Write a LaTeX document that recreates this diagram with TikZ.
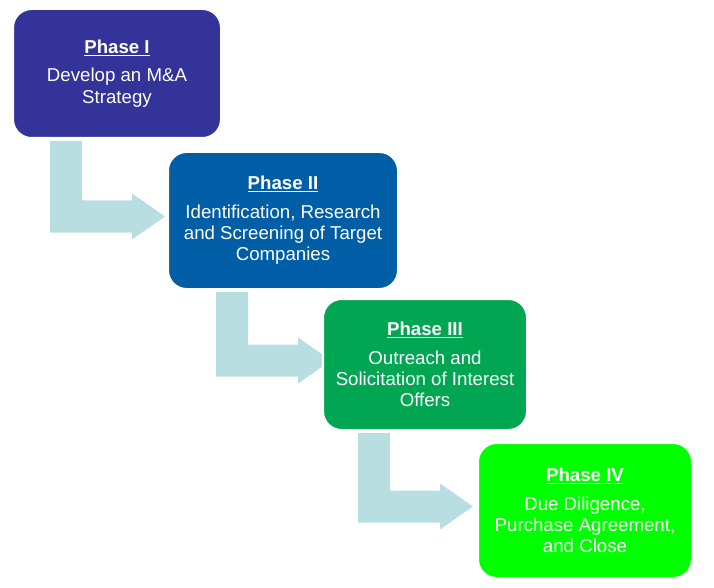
\documentclass[tikz,border=0pt]{standalone}
\usepackage{fontspec}
\setmainfont{Liberation Sans}
\usetikzlibrary{calc,backgrounds}
\definecolor{phaseone}{RGB}{51,51,153}
\definecolor{phasetwo}{RGB}{0,94,166}
\definecolor{phasethree}{RGB}{0,166,81}
\definecolor{phasefour}{RGB}{0,255,0}
\definecolor{flowblue}{RGB}{184,222,225}
\newcommand{\phasehead}[1]{\textbf{\underline{#1}}\\[5.5pt]}
\tikzset{phasebox/.style={rounded corners=14pt,draw=white,line width=1.5pt,align=center,text=white,font=\fontsize{14}{16}\selectfont}}
\tikzset{flowarrow/.style={fill=flowblue}}
% bent arrow from the bottom of #1 to the left side of #2
\newcommand{\phasearrow}[2]{%
	\coordinate (top) at ($(#1.south)+(-51,2)$);
	\coordinate (tipy) at ($(#2.west)+(0,-4)$);
	\coordinate (bend) at (top |- tipy);
	\fill[flowarrow] ($(top)+(-16,0)$) -- ++(32,0) -- ($(bend)+(16,-16)$) -- ++(50,0) -- ++(0,-7) -- ++(33,23) -- ++(-33,23) -- ++(0,-7) -- ++(-82,0) -- cycle;
}

\begin{document}
\begin{tikzpicture}[x=0.75pt,y=-0.75pt]
	\useasboundingbox (0,0) rectangle (714,588);

	\node[phasebox,fill=phaseone,minimum width=156pt,minimum height=96.75pt] (p1) at (117,73.5) {\phasehead{Phase I}Develop an M\&A\\Strategy};
	\node[phasebox,fill=phasetwo,minimum width=172.5pt,minimum height=102.75pt] (p2) at (283,220.5) {\phasehead{Phase II}Identification, Research\\and Screening of Target\\Companies};
	\node[phasebox,fill=phasethree,minimum width=153pt,minimum height=98.25pt] (p3) at (425,364.5) {\phasehead{Phase III}Outreach and\\Solicitation of Interest\\Offers};
	\node[phasebox,fill=phasefour,minimum width=160.5pt,minimum height=101.25pt] (p4) at (585,510.5) {\phasehead{Phase IV}Due Diligence,\\Purchase Agreement,\\and Close};

	\begin{pgfonlayer}{background}
		\phasearrow{p1}{p2}
		\phasearrow{p2}{p3}
		\phasearrow{p3}{p4}
	\end{pgfonlayer}
\end{tikzpicture}
\end{document}
